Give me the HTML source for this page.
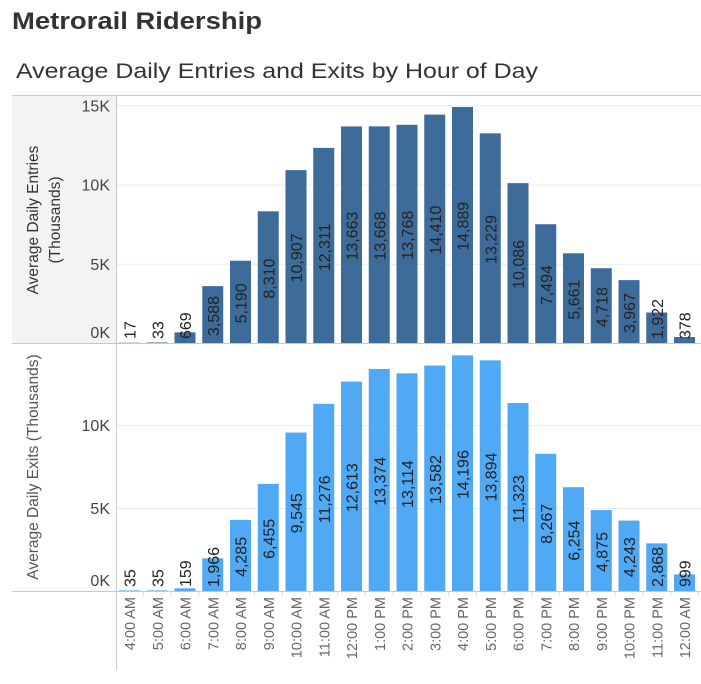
<!DOCTYPE html>
<html><head><meta charset="utf-8"><style>
html,body{margin:0;padding:0;background:#fff;}
svg{display:block;font-family:"Liberation Sans",sans-serif;}
</style></head><body>
<svg id="s" width="701" height="684" viewBox="0 0 701 684" xmlns="http://www.w3.org/2000/svg">
<text x="12" y="29" font-size="24" font-weight="bold" fill="#333" textLength="250" lengthAdjust="spacingAndGlyphs">Metrorail Ridership</text>
<text x="16" y="78" font-size="21" fill="#333" textLength="522" lengthAdjust="spacingAndGlyphs">Average Daily Entries and Exits by Hour of Day</text>
<rect x="12" y="96" width="104" height="247" fill="#f3f3f3"/>
<line x1="12" y1="95.5" x2="701" y2="95.5" stroke="#c8c8c8"/>
<line x1="12" y1="343.5" x2="701" y2="343.5" stroke="#c8c8c8"/>
<line x1="12" y1="591.5" x2="701" y2="591.5" stroke="#c8c8c8"/>
<line x1="116.5" y1="95" x2="116.5" y2="670" stroke="#c8c8c8"/>
<g id="g"></g>
<text transform="translate(38,220) rotate(-90)" font-size="15.5" fill="#333" text-anchor="middle">Average Daily Entries</text>
<text transform="translate(60,220) rotate(-90)" font-size="15.5" fill="#333" text-anchor="middle">(Thousands)</text>
<text transform="translate(38,467) rotate(-90)" font-size="15.5" fill="#555" text-anchor="middle">Average Daily Exits (Thousands)</text>
</svg>
<script>
var en=[17,33,669,3588,5190,8310,10907,12311,13663,13668,13768,14410,14889,13229,10086,7494,5661,4718,3967,1922,378];
var ex=[35,35,159,1966,4285,6455,9545,11276,12613,13374,13114,13582,14196,13894,11323,8267,6254,4875,4243,2868,999];
var hrs=["4:00 AM","5:00 AM","6:00 AM","7:00 AM","8:00 AM","9:00 AM","10:00 AM","11:00 AM","12:00 PM","1:00 PM","2:00 PM","3:00 PM","4:00 PM","5:00 PM","6:00 PM","7:00 PM","8:00 PM","9:00 PM","10:00 PM","11:00 PM","12:00 AM"];
var h='';
function fmt(v){return v.toLocaleString('en-US');}
function panel(vals,z,k,col,ticks){
  ticks.forEach(function(t){var y=z-t*k;
    if(t>0)h+='<line x1="117" x2="701" y1="'+(y+.5)+'" y2="'+(y+.5)+'" stroke="#ececec"/>';
    var ty=t==0?z-5:y+6;
    h+='<text x="110" y="'+ty+'" font-size="16" fill="#444" text-anchor="end">'+t+'K</text>';});
  vals.forEach(function(v,i){var c=129.5+i*27.75,bh=v/1000*k,top=z-bh;
    h+='<rect x="'+(c-10.5)+'" y="'+top+'" width="21" height="'+bh+'" fill="'+col+'"/>';
    var s=fmt(v),tw=s.length*8.6,cy=top+bh/2;
    var bot=cy+tw/2; if(bot>z-4){bot=z-4;}
    h+='<text transform="translate('+(c+6)+','+bot+') rotate(-90)" font-size="16" fill="#222">'+s+'</text>';});
}
panel(en,343,15.85,'#3d6c9b',[0,5,10,15]);
panel(ex,591,16.6,'#4fa9f5',[0,5,10]);
hrs.forEach(function(t,i){var c=129.5+i*27.75;
  h+='<text transform="translate('+(c+5.5)+',597) rotate(-90)" font-size="14.5" fill="#666" text-anchor="end">'+t+'</text>';
  h+='<line x1="'+(c+13.9)+'" x2="'+(c+13.9)+'" y1="592" y2="596" stroke="#ddd"/>';});
document.getElementById('g').innerHTML=h;
</script>
</body></html>
